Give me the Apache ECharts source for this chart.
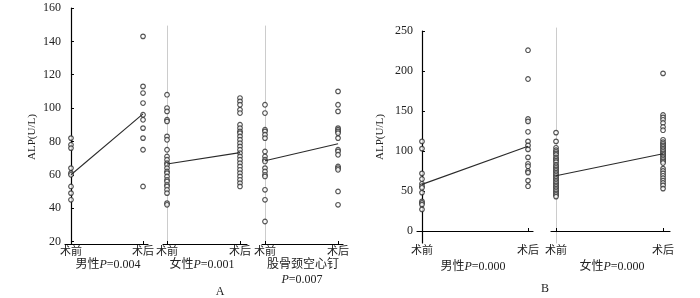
<!DOCTYPE html>
<html>
<head>
<meta charset="utf-8">
<style>
  html, body { margin: 0; padding: 0; background: #fff; }
  #chart { width: 700px; height: 298px; }
</style>
<script src="https://cdn.jsdelivr.net/npm/echarts@6/dist/echarts.min.js"></script>
</head>
<body>
<div id="chart"></div>
<script>
// categories
const cats = ["术前", "术后"];

// panel A (ALP, U/L)
const aMaleBefore = [82, 78, 76, 64, 61, 60, 53, 49, 45];
const aMaleAfter = [143, 113, 109, 103, 96, 93, 88, 82, 75, 53];
const aMaleLine = [60, 96.5];
const aFemaleBefore = [108, 100, 98, 93, 92, 83, 81, 75, 71, 69, 67, 66, 64, 62, 61, 59, 57, 56, 54, 53, 51, 49, 43, 42];
const aFemaleAfter = [106, 104, 102, 99, 97, 90, 88, 86, 85, 83, 81, 79, 77, 75, 73, 71, 69, 67, 65, 63, 61, 59, 57, 55, 53];
const aFemaleLine = [66.5, 73.3];
const aScrewBefore = [102, 97, 87, 86, 84, 82, 74, 71, 69, 68, 64, 62, 60, 59, 51, 45, 32];
const aScrewAfter = [110, 102, 98, 88, 87, 86, 85, 82, 75, 74, 72, 65, 64, 63, 50, 42];
const aScrewLine = [68.4, 78.6];

// panel B
const bMaleBefore = [112, 103, 72, 65, 59, 56, 54, 48, 37, 35, 33, 27];
const bMaleAfter = [226, 190, 140, 137, 124, 112, 107, 102, 92, 84, 81, 75, 73, 63, 56];
const bMaleLine = [58.3, 106];
const bFemaleBefore = [123, 112, 104, 101, 99, 97, 95, 92, 90, 88, 86, 83, 81, 79, 77, 75, 73, 71, 69, 67, 65, 63, 61, 59, 57, 55, 53, 51, 49, 47, 45, 43];
const bFemaleAfter = [197, 145, 142, 139, 135, 130, 126, 114, 111, 109, 107, 105, 103, 101, 99, 97, 95, 93, 91, 89, 87, 85, 78, 75, 72, 69, 66, 63, 60, 57, 53];
const bFemaleLine = [69, 96.5];

// tick labels
const aTicks = [20, 40, 60, 80, 100, 120, 140, 160];
const bTicks = [0, 50, 100, 150, 200, 250];

const FONT = '"Liberation Serif", "Noto Sans CJK SC", serif';
const INK = "#2a2a2a";

const chart = echarts.init(document.getElementById("chart"));

function xAxisFor(gridIndex, min, max) {
  return {
    type: "value",
    gridIndex,
    min,
    max,
    axisLine: { lineStyle: { color: "#000", width: 1.2 } },
    axisTick: { inside: true, length: 3, customValues: [0, 1], lineStyle: { color: "#000" } },
    axisLabel: {
      customValues: [0, 1],
      formatter: (v) => cats[Math.round(v)],
      margin: 3,
      color: "#222",
      fontSize: 11,
      fontFamily: FONT,
    },
    splitLine: { show: false },
  };
}

function yAxisFor(gridIndex, min, max, ticks) {
  const main = !!ticks;
  return {
    type: "value",
    gridIndex,
    min,
    max,
    axisLine: { show: true, lineStyle: { color: main ? "#000" : "#ccc", width: main ? 1.2 : 1 } },
    axisTick: main
      ? { inside: true, length: 3, customValues: ticks, lineStyle: { color: "#000" } }
      : { show: false },
    axisLabel: main
      ? { customValues: ticks, margin: 4, color: "#222", fontSize: 12, fontFamily: FONT }
      : { show: false },
    splitLine: { show: false },
  };
}

function dots(idx, before, after) {
  const data = before.map((v) => [0, v]).concat(after.map((v) => [1, v]));
  return {
    type: "scatter",
    xAxisIndex: idx,
    yAxisIndex: idx,
    data,
    symbol: "circle",
    symbolSize: 4.6,
    itemStyle: { color: "#fff", borderColor: INK, borderWidth: 1.2 },
    silent: true,
  };
}

function trend(idx, line) {
  return {
    type: "line",
    xAxisIndex: idx,
    yAxisIndex: idx,
    data: line.map((v, i) => [i, v]),
    symbol: "none",
    lineStyle: { color: INK, width: 1.1 },
    z: 3,
    silent: true,
  };
}

function label(x, y, parts, extra) {
  return {
    type: "text",
    x,
    y,
    style: Object.assign(
      {
        text: parts,
        align: "center",
        verticalAlign: "middle",
        fill: "#222",
        font: "12px " + FONT,
        rich: {
          c: { fontSize: 12, fontFamily: FONT, fill: "#222" },
          p: { fontSize: 12, fontFamily: FONT, fontStyle: "italic", fill: "#222" },
          n: { fontSize: 12, fontFamily: FONT, fill: "#222" },
        },
      },
      extra || {}
    ),
  };
}

const option = {
  backgroundColor: "#fff",
  animation: false,
  grid: [
    { left: 65, top: 8, width: 83, height: 236 },
    { left: 163, top: 26, width: 84, height: 218 },
    { left: 262, top: 26, width: 81, height: 218 },
    { left: 417, top: 31, width: 116, height: 212 },
    { left: 551, top: 28, width: 119, height: 215 },
  ],
  xAxis: [
    xAxisFor(0, -0.083, 1.069),
    xAxisFor(1, -0.055, 1.096),
    xAxisFor(2, -0.041, 1.068),
    xAxisFor(3, -0.047, 1.047),
    xAxisFor(4, -0.047, 1.065),
  ],
  yAxis: [
    yAxisFor(0, 18.5, 160, aTicks),
    yAxisFor(1, 18.5, 149.2),
    yAxisFor(2, 18.5, 149.2),
    yAxisFor(3, -15, 250, bTicks),
    yAxisFor(4, -15, 253.75),
  ],
  series: [
    dots(0, aMaleBefore, aMaleAfter),
    trend(0, aMaleLine),
    dots(1, aFemaleBefore, aFemaleAfter),
    trend(1, aFemaleLine),
    dots(2, aScrewBefore, aScrewAfter),
    trend(2, aScrewLine),
    dots(3, bMaleBefore, bMaleAfter),
    trend(3, bMaleLine),
    dots(4, bFemaleBefore, bFemaleAfter),
    trend(4, bFemaleLine),
  ],
  graphic: [
    label(32, 137, "ALP(U/L)", { font: "11px " + FONT }),
    label(380, 137, "ALP(U/L)", { font: "11px " + FONT }),
    label(108, 265, "{c|男性}{p|P}{n|=0.004}"),
    label(202, 265, "{c|女性}{p|P}{n|=0.001}"),
    label(303, 265, "{c|股骨颈空心钉}"),
    label(302, 280, "{p|P}{n|=0.007}"),
    label(220, 292, "A"),
    label(473, 267, "{c|男性}{p|P}{n|=0.000}"),
    label(612, 267, "{c|女性}{p|P}{n|=0.000}"),
    label(545, 289, "B"),
  ],
};

// vertical axis titles
option.graphic[0].rotation = Math.PI / 2;
option.graphic[1].rotation = Math.PI / 2;

chart.setOption(option);
</script>
</body>
</html>
